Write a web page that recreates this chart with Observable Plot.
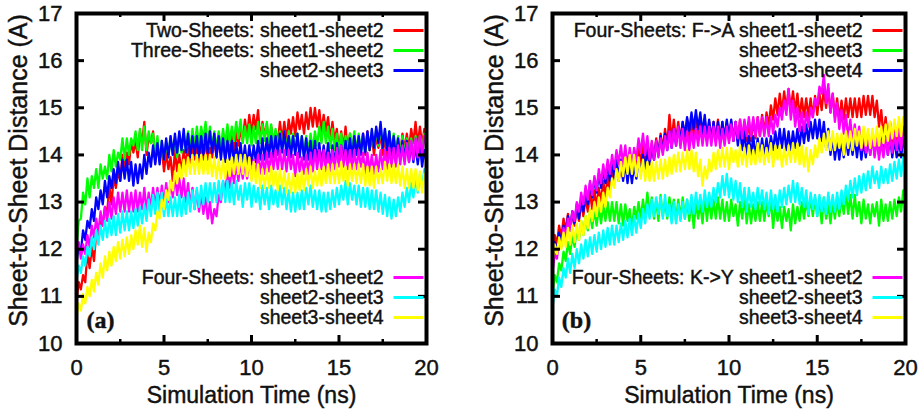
<!DOCTYPE html>
<html>
<head>
<meta charset="utf-8">
<script src="https://cdn.jsdelivr.net/npm/d3@7"></script>
<script src="https://cdn.jsdelivr.net/npm/@observablehq/plot@0.6"></script>
<style>
html, body { margin: 0; padding: 0; background: #fff; }
#wrap { display: flex; width: 923px; height: 415px; overflow: hidden; }
#wrap svg { display: block; }
#wrap svg text { stroke: #111; stroke-width: 0.45px; }
</style>
</head>
<body>
<div id="wrap"></div>
<script>
// Sampling grid: time in ns, every 0.125 ns from 0 to 20 (one row below = 1 ns)
const timeNs = d3.range(0, 20.0001, 0.125);

const xTitle = "Simulation Time (ns)";
const yTitle = "Sheet-to-Sheet Distance (A)";
const xMajorTicks = [0, 5, 10, 15, 20];
const xMinorTicks = [2.5, 7.5, 12.5, 17.5];
const yMajorTicks = [10, 11, 12, 13, 14, 15, 16, 17];

// ---------- Panel (a) ----------
const aTwoS12 = [
 10.9,11.3,11.15,11.45,11.3,11.95,11.6,12.05,
 11.75,12.35,12.2,12.6,12.5,12.9,12.75,13.35,
 12.95,13.55,13.3,13.65,13.45,14.0,13.7,14.05,
 13.8,14.3,14.05,14.3,13.95,14.5,14.25,14.7,
 14.0,14.4,14.25,14.5,13.85,14.2,13.9,14.15,
 13.65,14.05,13.7,13.95,13.45,14.1,13.65,14.0,
 13.6,14.1,13.8,14.15,13.75,14.25,13.9,14.2,
 13.8,14.25,13.9,14.3,13.9,14.15,13.95,14.35,
 13.95,14.45,14.05,14.3,13.9,14.4,14.1,14.45,
 14.05,14.5,14.2,14.55,14.3,14.75,14.4,14.85,
 14.45,14.85,14.55,14.95,14.3,14.7,14.4,14.65,
 14.2,14.6,14.2,14.5,14.25,14.7,14.3,14.7,
 14.3,14.75,14.45,14.8,14.4,14.9,14.55,14.85,
 14.45,14.9,14.55,15.0,14.6,15.0,14.6,14.95,
 14.5,14.85,14.5,14.8,14.3,14.7,14.3,14.55,
 14.1,14.5,14.1,14.6,14.05,14.45,14.05,14.4,
 14.0,14.35,14.1,14.45,14.0,14.5,14.1,14.4,
 14.0,14.4,14.15,14.45,14.0,14.4,13.95,14.35,
 13.9,14.35,14.05,14.3,14.0,14.45,14.1,14.45,
 14.1,14.55,14.25,14.7,14.2,14.6,14.2,14.55,
 14.3];
const aThreeS12 = [
 12.0,12.6,12.65,13.2,12.95,13.5,13.1,13.55,
 13.3,13.7,13.3,13.8,13.5,13.75,13.5,14.0,
 13.65,14.1,13.75,14.05,13.9,14.35,13.9,14.35,
 14.0,14.35,14.2,14.5,14.1,14.55,14.1,14.6,
 14.1,14.5,14.25,14.45,13.95,14.4,13.85,14.3,
 13.9,14.25,13.95,14.4,14.0,14.35,13.95,14.45,
 14.05,14.4,14.1,14.5,14.1,14.55,14.15,14.6,
 14.2,14.6,14.3,14.7,14.2,14.6,14.15,14.5,
 14.1,14.5,14.15,14.55,14.2,14.65,14.25,14.6,
 14.3,14.7,14.35,14.75,14.25,14.6,14.25,14.65,
 14.2,14.6,14.25,14.7,14.25,14.65,14.3,14.7,
 14.25,14.65,14.2,14.55,14.15,14.5,14.1,14.5,
 14.1,14.5,14.1,14.45,14.05,14.45,14.05,14.4,
 14.0,14.4,14.05,14.45,14.1,14.5,14.2,14.6,
 14.25,14.7,14.25,14.6,14.15,14.55,14.1,14.45,
 14.05,14.45,14.05,14.4,14.05,14.45,14.1,14.5,
 14.05,14.45,14.05,14.4,14.05,14.45,14.1,14.5,
 14.15,14.55,14.2,14.6,14.15,14.55,14.1,14.5,
 14.05,14.45,14.05,14.4,14.0,14.4,14.0,14.35,
 13.95,14.35,14.0,14.4,14.0,14.4,14.05,14.45,
 14.2];
const aThreeS23 = [
 11.7,12.1,11.95,12.4,12.2,12.6,12.45,12.85,
 12.6,13.1,12.85,13.25,12.95,13.45,13.1,13.55,
 13.3,13.7,13.4,13.85,13.45,13.9,13.5,13.9,
 13.45,13.85,13.35,13.8,13.4,13.8,13.5,14.0,
 13.6,14.05,13.75,14.2,13.8,14.25,13.8,14.3,
 13.9,14.35,13.95,14.4,14.0,14.45,14.05,14.5,
 14.1,14.55,14.05,14.45,13.95,14.4,14.0,14.4,
 13.95,14.4,14.0,14.45,14.05,14.5,14.05,14.45,
 13.95,14.4,13.9,14.35,13.85,14.3,13.9,14.3,
 13.8,14.25,13.85,14.25,13.8,14.2,13.75,14.2,
 13.8,14.2,13.85,14.3,13.9,14.35,13.9,14.35,
 13.95,14.4,13.95,14.4,14.0,14.45,14.05,14.5,
 14.0,14.4,13.95,14.4,14.0,14.45,13.95,14.4,
 13.9,14.35,13.9,14.3,13.85,14.3,13.85,14.25,
 13.8,14.2,13.8,14.25,13.75,14.2,13.8,14.25,
 13.8,14.2,13.85,14.3,13.9,14.35,13.95,14.4,
 14.0,14.4,14.0,14.45,14.05,14.5,14.1,14.55,
 14.15,14.6,14.25,14.7,14.15,14.55,14.1,14.5,
 14.0,14.4,13.95,14.35,13.9,14.3,13.9,14.3,
 13.85,14.25,13.85,14.2,13.8,14.2,13.75,14.1,
 13.85];
const aFourS12 = [
 11.95,12.15,11.8,12.1,11.9,12.3,12.05,12.5,
 12.25,12.65,12.35,12.8,12.5,12.9,12.6,13.0,
 12.65,13.1,12.75,13.2,12.8,13.2,12.8,13.25,
 12.8,13.2,12.8,13.25,12.8,13.2,12.85,13.3,
 12.8,13.2,12.85,13.3,12.9,13.3,12.9,13.35,
 12.95,13.4,13.0,13.45,13.1,13.55,13.15,13.5,
 13.1,13.5,13.0,13.4,12.9,13.3,12.85,13.25,
 12.8,13.2,12.75,13.1,12.65,13.0,12.55,12.85,
 12.7,13.15,13.0,13.45,13.2,13.65,13.3,13.75,
 13.4,13.85,13.45,13.85,13.5,13.9,13.5,13.95,
 13.5,13.9,13.55,14.0,13.6,14.0,13.6,14.05,
 13.65,14.05,13.7,14.1,13.7,14.1,13.7,14.1,
 13.65,14.1,13.7,14.0,13.55,14.05,13.65,13.95,
 13.6,14.0,13.6,14.05,13.65,14.1,13.7,14.1,
 13.7,14.1,13.65,14.05,13.65,14.1,13.7,14.15,
 13.75,14.2,13.75,14.1,13.7,14.1,13.7,14.1,
 13.7,14.1,13.75,14.05,13.6,14.05,13.65,14.0,
 13.6,14.0,13.65,14.1,13.7,14.1,13.7,14.15,
 13.75,14.15,13.75,14.2,13.8,14.2,13.8,14.25,
 13.85,14.3,13.9,14.35,13.95,14.4,14.0,14.4,
 14.2];
const aFourS23 = [
 11.35,11.65,11.5,11.85,11.65,12.05,11.85,12.25,
 12.0,12.4,12.1,12.5,12.2,12.6,12.25,12.65,
 12.3,12.7,12.3,12.75,12.35,12.8,12.4,12.8,
 12.4,12.8,12.45,12.85,12.5,12.9,12.55,12.95,
 12.6,13.05,12.7,13.15,12.75,13.2,12.8,13.2,
 12.7,13.1,12.7,13.1,12.7,13.1,12.7,13.15,
 12.7,13.1,12.75,13.2,12.8,13.25,12.85,13.3,
 12.9,13.35,12.95,13.4,13.0,13.4,13.0,13.4,
 13.0,13.45,13.05,13.45,13.0,13.45,13.0,13.4,
 12.95,13.45,13.05,13.35,12.9,13.4,13.05,13.4,
 12.9,13.35,13.0,13.3,12.85,13.35,12.95,13.3,
 12.85,13.35,12.95,13.25,12.9,13.35,12.95,13.3,
 12.85,13.25,12.8,13.2,12.8,13.2,12.85,13.25,
 12.85,13.3,12.95,13.35,12.9,13.25,12.85,13.25,
 12.8,13.2,12.8,13.2,12.85,13.25,12.9,13.3,
 12.95,13.35,13.05,13.45,12.95,13.4,13.05,13.35,
 12.95,13.35,12.9,13.3,12.9,13.3,12.85,13.25,
 12.85,13.25,12.8,13.2,12.75,13.15,12.7,13.1,
 12.65,13.05,12.7,13.1,12.8,13.2,12.9,13.3,
 13.0,13.4,13.1,13.5,13.2,13.6,13.3,13.7,
 13.5];
const aFourS34 = [
 10.55,10.85,10.7,11.05,10.85,11.2,11.0,11.35,
 11.1,11.5,11.25,11.7,11.4,11.85,11.55,11.95,
 11.65,12.05,11.75,12.15,11.8,12.2,11.85,12.25,
 11.9,12.3,12.0,12.4,12.1,12.5,12.05,12.45,
 11.95,12.35,12.15,12.55,12.4,12.8,12.65,13.05,
 12.85,13.25,13.05,13.45,13.25,13.65,13.4,13.8,
 13.5,13.9,13.55,13.95,13.6,14.0,13.6,14.0,
 13.6,14.0,13.6,14.0,13.6,14.0,13.55,13.95,
 13.5,13.9,13.5,13.9,13.5,13.9,13.55,13.95,
 13.6,14.0,13.6,14.0,13.6,14.0,13.55,13.95,
 13.45,13.85,13.4,13.8,13.3,13.7,13.3,13.7,
 13.3,13.75,13.35,13.65,13.25,13.7,13.3,13.65,
 13.2,13.6,13.2,13.6,13.2,13.6,13.25,13.65,
 13.25,13.7,13.35,13.75,13.3,13.65,13.35,13.7,
 13.35,13.75,13.4,13.8,13.4,13.8,13.4,13.8,
 13.4,13.85,13.45,13.75,13.35,13.8,13.45,13.8,
 13.4,13.8,13.4,13.8,13.35,13.75,13.35,13.75,
 13.3,13.75,13.4,13.7,13.4,13.85,13.45,13.8,
 13.4,13.8,13.4,13.8,13.35,13.75,13.3,13.7,
 13.3,13.7,13.3,13.7,13.25,13.65,13.2,13.6,
 13.4];

// ---------- Panel (b) ----------
const bFAS12 = [
 11.95,12.3,12.1,12.5,12.25,12.65,12.4,12.75,
 12.4,12.8,12.5,12.9,12.6,13.0,12.7,13.1,
 12.8,13.2,12.85,13.25,12.9,13.3,13.0,13.45,
 13.1,13.55,13.25,13.7,13.4,13.85,13.45,13.85,
 13.5,13.9,13.55,13.95,13.6,14.0,13.7,14.15,
 13.8,14.2,13.8,14.2,13.8,14.25,13.9,14.35,
 14.0,14.45,14.1,14.55,14.2,14.85,14.3,14.75,
 14.3,14.7,14.3,14.7,14.3,14.75,14.3,14.7,
 14.3,14.7,14.3,14.7,14.3,14.75,14.3,14.7,
 14.3,14.7,14.3,14.75,14.3,14.7,14.3,14.7,
 14.3,14.7,14.3,14.7,14.3,14.75,14.3,14.7,
 14.3,14.7,14.3,14.75,14.35,14.8,14.4,14.85,
 14.45,14.9,14.6,15.05,14.75,15.2,14.85,15.3,
 14.9,15.35,14.95,15.4,14.95,15.35,14.9,15.3,
 14.8,15.2,14.8,15.2,14.8,15.2,14.8,15.25,
 14.85,15.3,14.95,15.4,15.0,15.4,14.9,15.3,
 14.8,15.2,14.75,15.15,14.75,15.2,14.8,15.2,
 14.8,15.2,14.8,15.2,14.8,15.25,14.85,15.25,
 14.85,15.25,14.8,15.15,14.6,14.95,14.4,14.8,
 14.3,14.7,14.25,14.65,14.2,14.6,14.2,14.6,
 14.4];
const bFAS23 = [
 11.05,11.45,11.3,11.7,11.55,11.95,11.75,12.15,
 11.9,12.3,12.05,12.45,12.2,12.6,12.3,12.7,
 12.4,12.8,12.45,12.85,12.5,12.9,12.55,12.95,
 12.6,13.0,12.6,13.0,12.6,13.0,12.55,12.95,
 12.5,12.95,12.6,12.85,12.4,12.9,12.65,13.0,
 12.65,13.05,12.7,13.2,12.7,13.1,12.65,13.05,
 12.6,13.15,12.7,13.0,12.65,13.1,12.75,13.05,
 12.6,13.05,12.65,13.1,12.65,13.05,12.6,13.05,
 12.45,13.0,12.65,12.95,12.55,13.1,12.6,13.05,
 12.65,13.05,12.65,13.1,12.65,13.05,12.6,13.0,
 12.6,13.05,12.7,12.95,12.5,13.0,12.65,13.1,
 12.55,12.95,12.55,12.95,12.6,13.0,12.6,13.0,
 12.6,13.0,12.7,13.05,12.45,12.95,12.6,12.9,
 12.45,12.9,12.6,12.85,12.4,12.95,12.55,12.9,
 12.6,13.0,12.65,13.05,12.7,13.1,12.7,13.1,
 12.7,13.05,12.55,13.1,12.65,12.95,12.55,13.0,
 12.65,13.05,12.7,13.1,12.75,13.2,12.75,13.15,
 12.65,13.15,12.7,13.0,12.55,13.05,12.65,12.95,
 12.55,12.95,12.7,13.0,12.5,13.05,12.6,12.95,
 12.6,13.0,12.65,13.05,12.7,13.1,12.8,13.25,
 13.1];
const bFAS34 = [
 11.75,12.15,11.95,12.35,12.1,12.5,12.3,12.7,
 12.4,12.8,12.55,12.95,12.65,13.05,12.8,13.25,
 12.95,13.4,13.1,13.5,13.2,13.6,13.3,13.7,
 13.4,13.8,13.45,13.85,13.5,13.9,13.5,13.9,
 13.45,13.85,13.4,13.8,13.4,13.8,13.5,13.9,
 13.6,14.0,13.7,14.1,13.8,14.2,13.9,14.3,
 14.0,14.4,14.05,14.45,14.1,14.5,14.15,14.55,
 14.2,14.6,14.3,14.7,14.4,14.8,14.5,14.9,
 14.55,14.95,14.55,14.9,14.45,14.85,14.35,14.75,
 14.3,14.7,14.3,14.7,14.3,14.7,14.35,14.75,
 14.35,14.75,14.3,14.7,14.2,14.6,14.1,14.5,
 14.0,14.4,14.0,14.4,13.95,14.35,13.95,14.35,
 13.95,14.35,14.0,14.4,14.1,14.5,14.15,14.55,
 14.15,14.55,14.1,14.5,14.1,14.5,14.15,14.55,
 14.2,14.6,14.25,14.65,14.3,14.7,14.35,14.75,
 14.35,14.75,14.3,14.7,14.15,14.55,14.0,14.4,
 13.9,14.3,13.9,14.3,13.95,14.35,14.0,14.4,
 14.0,14.4,13.95,14.35,13.9,14.3,13.95,14.35,
 14.0,14.4,14.0,14.4,14.0,14.4,14.0,14.4,
 14.0,14.4,13.95,14.35,13.95,14.35,13.95,14.35,
 14.1];
const bKYS12 = [
 11.5,11.9,11.8,12.2,12.05,12.45,12.25,12.65,
 12.4,12.8,12.6,13.0,12.8,13.2,12.95,13.35,
 13.05,13.45,13.15,13.55,13.25,13.7,13.4,13.8,
 13.5,13.9,13.6,14.0,13.7,14.1,13.8,14.2,
 13.8,14.2,13.75,14.15,13.75,14.15,13.9,14.35,
 14.05,14.45,14.0,14.4,13.9,14.3,13.9,14.3,
 13.95,14.35,14.0,14.4,14.1,14.5,14.15,14.55,
 14.2,14.6,14.15,14.55,14.1,14.5,14.1,14.5,
 14.15,14.55,14.2,14.6,14.2,14.6,14.2,14.6,
 14.2,14.6,14.2,14.6,14.15,14.55,14.2,14.6,
 14.25,14.65,14.3,14.7,14.35,14.75,14.35,14.75,
 14.4,14.8,14.4,14.8,14.4,14.8,14.4,14.8,
 14.4,14.8,14.4,14.8,14.45,14.85,14.6,15.0,
 14.75,15.15,14.85,15.4,14.75,15.15,14.6,15.0,
 14.5,14.9,14.5,14.9,14.6,15.0,14.8,15.2,
 15.05,15.45,15.3,15.7,15.1,15.5,14.9,15.3,
 14.7,15.1,14.55,14.95,14.45,14.85,14.35,14.75,
 14.25,14.65,14.2,14.6,14.1,14.5,14.05,14.45,
 14.0,14.4,13.95,14.35,13.9,14.3,13.95,14.35,
 14.0,14.4,14.05,14.45,14.1,14.5,14.1,14.5,
 14.3];
const bKYS23 = [
 10.75,11.15,11.0,11.4,11.2,11.6,11.4,11.8,
 11.5,11.9,11.6,12.0,11.7,12.1,11.8,12.2,
 11.85,12.25,11.9,12.3,11.95,12.35,12.0,12.4,
 12.05,12.45,12.1,12.5,12.1,12.5,12.15,12.55,
 12.2,12.6,12.25,12.65,12.3,12.7,12.35,12.75,
 12.45,12.85,12.55,12.95,12.65,13.05,12.7,13.1,
 12.75,13.1,12.65,13.15,12.7,12.95,12.55,13.0,
 12.55,12.95,12.6,13.0,12.65,13.05,12.75,13.15,
 12.75,13.2,12.85,13.15,12.8,13.25,12.9,13.2,
 12.9,13.3,13.0,13.4,13.1,13.55,13.15,13.6,
 13.1,13.5,13.05,13.45,13.0,13.4,12.9,13.3,
 12.8,13.3,12.9,13.2,12.85,13.3,12.95,13.25,
 12.85,13.2,12.75,13.25,12.85,13.15,12.8,13.25,
 12.9,13.3,12.95,13.35,13.0,13.45,13.0,13.4,
 12.95,13.3,12.9,13.25,12.75,13.2,12.85,13.15,
 12.7,13.15,12.8,13.1,12.75,13.2,12.8,13.15,
 12.8,13.2,12.85,13.25,12.95,13.35,13.05,13.45,
 13.1,13.5,13.15,13.55,13.2,13.6,13.25,13.65,
 13.3,13.75,13.4,13.65,13.3,13.75,13.4,13.7,
 13.4,13.8,13.45,13.85,13.5,13.9,13.55,13.95,
 13.8];
const bKYS34 = [
 11.75,12.1,11.9,12.25,12.0,12.35,12.05,12.45,
 12.1,12.5,12.15,12.55,12.2,12.6,12.3,12.7,
 12.45,12.85,12.6,13.0,12.7,13.1,12.8,13.2,
 12.9,13.3,13.1,13.5,13.3,13.7,13.45,13.85,
 13.55,13.95,13.6,14.0,13.6,14.0,13.55,13.95,
 13.5,13.9,13.45,13.85,13.45,13.85,13.45,13.85,
 13.5,13.9,13.5,13.9,13.55,13.95,13.6,14.0,
 13.65,14.05,13.65,14.05,13.7,14.1,13.7,14.1,
 13.65,14.05,13.55,13.9,13.35,13.75,13.5,13.9,
 13.65,14.05,13.7,14.1,13.75,14.15,13.75,14.15,
 13.7,14.15,13.85,14.1,13.75,14.2,13.8,14.15,
 13.75,14.2,13.8,14.1,13.8,14.25,13.85,14.2,
 13.8,14.15,13.85,14.25,13.75,14.2,13.9,14.2,
 13.75,14.15,13.8,14.2,13.85,14.25,13.85,14.25,
 13.8,14.2,13.75,14.15,13.65,14.1,13.8,14.2,
 13.95,14.35,14.05,14.45,14.1,14.5,14.1,14.5,
 14.1,14.45,14.15,14.45,14.0,14.5,14.15,14.5,
 14.1,14.55,14.2,14.5,14.15,14.6,14.2,14.55,
 14.15,14.55,14.2,14.6,14.2,14.6,14.25,14.65,
 14.3,14.7,14.35,14.75,14.4,14.8,14.4,14.8,
 14.6];

const seriesColors = ["#ff0000", "#00ff00", "#0000ff", "#ff00ff", "#00ffff", "#ffff00"];

const panelALabelsTop = ["Two-Sheets: sheet1-sheet2", "Three-Sheets: sheet1-sheet2", "sheet2-sheet3"];
const panelALabelsBottom = ["Four-Sheets: sheet1-sheet2", "sheet2-sheet3", "sheet3-sheet4"];
const panelBLabelsTop = ["Four-Sheets: F->A sheet1-sheet2", "sheet2-sheet3", "sheet3-sheet4"];
const panelBLabelsBottom = ["Four-Sheets: K->Y sheet1-sheet2", "sheet2-sheet3", "sheet3-sheet4"];

const panelASeries = [aTwoS12, aThreeS12, aThreeS23, aFourS12, aFourS23, aFourS34];
const panelBSeries = [bFAS12, bFAS23, bFAS34, bKYS12, bKYS23, bKYS34];

const H = 415, MT = 13, MB = 72;
const segSymbol = { draw(ctx) { ctx.moveTo(-15, 0); ctx.lineTo(15, 0); } };

function panel({width, marginLeft, marginRight, series, labelsTop, labelsBottom, tag}) {
  const innerW = width - marginLeft - marginRight;
  const innerH = H - MT - MB;
  const marks = [];
  series.forEach((vals, k) => {
    const rows = vals.map((v, i) => ({t: timeNs[i], v}));
    marks.push(Plot.line(rows, {x: "t", y: "v", stroke: seriesColors[k], strokeWidth: 2.3, strokeLinejoin: "round"}));
  });
  // inward ticks (gnuplot style), mirrored on all sides
  marks.push(Plot.tickX(xMajorTicks, {x: d => d, insetTop: innerH - 8, stroke: "#000", strokeWidth: 3}));
  marks.push(Plot.tickX(xMajorTicks, {x: d => d, insetBottom: innerH - 8, stroke: "#000", strokeWidth: 3}));
  marks.push(Plot.tickX(xMinorTicks, {x: d => d, insetTop: innerH - 4, stroke: "#000", strokeWidth: 2.5}));
  marks.push(Plot.tickX(xMinorTicks, {x: d => d, insetBottom: innerH - 4, stroke: "#000", strokeWidth: 2.5}));
  marks.push(Plot.tickY(yMajorTicks, {y: d => d, insetRight: innerW - 8, stroke: "#000", strokeWidth: 3}));
  marks.push(Plot.tickY(yMajorTicks, {y: d => d, insetLeft: innerW - 8, stroke: "#000", strokeWidth: 3}));
  marks.push(Plot.frame({stroke: "#000", strokeWidth: 4}));
  marks.push(Plot.axisX({ticks: xMajorTicks, tickSize: 0, tickPadding: 16, fontSize: 22, label: null, tickFormat: d => String(d)}));
  marks.push(Plot.axisY({ticks: yMajorTicks, tickSize: 0, tickPadding: 14, fontSize: 22, label: null, tickFormat: d => String(d)}));
  marks.push(Plot.text([xTitle], {text: d => d, frameAnchor: "bottom", dy: 52, fontSize: 23, textAnchor: "middle", lineAnchor: "middle", fill: "#111"}));
  marks.push(Plot.text([yTitle], {text: d => d, frameAnchor: "left", rotate: -90, dx: -58, dy: -8, fontSize: 25, textAnchor: "middle", lineAnchor: "middle", fill: "#111"}));
  // legends
  labelsTop.forEach((lab, i) => {
    marks.push(Plot.text([lab], {text: d => d, frameAnchor: "top-right", dx: -43, dy: 17 + 20 * i, textAnchor: "end", lineAnchor: "middle", fontSize: 19.5, fill: "#111"}));
    marks.push(Plot.dot([lab], {frameAnchor: "top-right", dx: -18, dy: 17 + 20 * i, symbol: segSymbol, stroke: seriesColors[i], fill: "none", strokeWidth: 3}));
  });
  labelsBottom.forEach((lab, i) => {
    marks.push(Plot.text([lab], {text: d => d, frameAnchor: "bottom-right", dx: -43, dy: -66 + 20 * i, textAnchor: "end", lineAnchor: "middle", fontSize: 19.5, fill: "#111"}));
    marks.push(Plot.dot([lab], {frameAnchor: "bottom-right", dx: -18, dy: -66 + 20 * i, symbol: segSymbol, stroke: seriesColors[i + 3], fill: "none", strokeWidth: 3}));
  });
  marks.push(Plot.text([tag], {text: d => d, frameAnchor: "bottom-left", dx: 24, dy: -23, textAnchor: "middle", lineAnchor: "middle", fontSize: 24, fontWeight: "bold", fontFamily: "'Liberation Serif', 'DejaVu Serif', serif", fill: "#111"}));

  return Plot.plot({
    width, height: H,
    marginLeft, marginRight, marginTop: MT, marginBottom: MB,
    x: {domain: [0, 20]},
    y: {domain: [10, 17]},
    style: {fontFamily: "'Liberation Sans', Arial, Helvetica, sans-serif", background: "#fff", color: "#111", overflow: "visible"},
    marks
  });
}

const wrap = document.getElementById("wrap");
wrap.appendChild(panel({width: 460, marginLeft: 76, marginRight: 34, series: panelASeries, labelsTop: panelALabelsTop, labelsBottom: panelALabelsBottom, tag: "(a)"}));
wrap.appendChild(panel({width: 463, marginLeft: 92, marginRight: 18, series: panelBSeries, labelsTop: panelBLabelsTop, labelsBottom: panelBLabelsBottom, tag: "(b)"}));
</script>
</body>
</html>
